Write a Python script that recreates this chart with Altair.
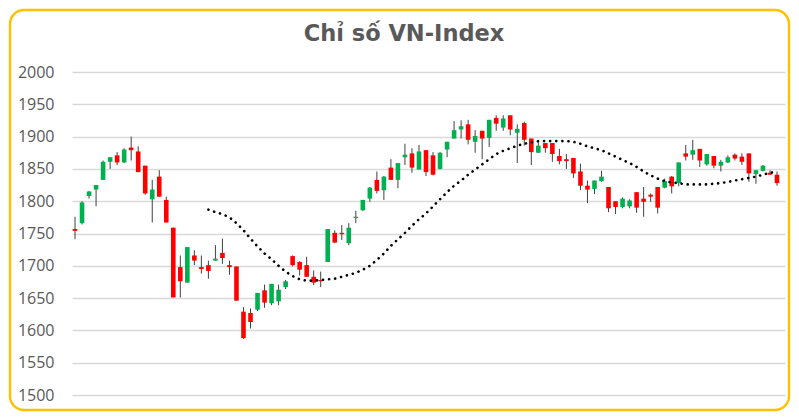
import altair as alt
import pandas as pd

# ---- data ----
open_ = [1757,1766,1808,1818,1833,1861,1871,1860,1883,1877,
         1855,1803,1838,1802,1759,1698,1674,1716,1698,1701,
         1708,1720,1701,1699,1629,1627,1632,1662,1642,1645,
         1667,1715,1706,1701,1683,1678,1706,1751,1751,1735,
         1774,1786,1804,1833,1817,1852,1833,1868,1874,1849,
         1879,1871,1850,1880,1897,1911,1919,1892,1909,1898,
         1929,1914,1933,1906,1921,1897,1875,1890,1890,1870,
         1865,1867,1846,1824,1819,1831,1822,1800,1791,1792,
         1814,1804,1810,1822,1821,1838,1828,1874,1872,1881,
         1857,1870,1855,1860,1872,1869,1874,1842,1847,1844,
         1841]
high = [1776,1800,1816,1825,1863,1868,1876,1882,1900,1885,
        1855,1833,1848,1807,1759,1716,1729,1724,1716,1708,
        1732,1742,1708,1699,1636,1634,1658,1671,1672,1671,
        1678,1716,1707,1714,1693,1691,1757,1755,1763,1766,
        1785,1802,1822,1846,1839,1865,1859,1889,1882,1887,
        1879,1876,1876,1892,1924,1925,1926,1910,1909,1926,
        1933,1933,1933,1919,1923,1897,1893,1890,1890,1881,
        1873,1867,1858,1832,1832,1847,1822,1800,1806,1803,
        1814,1822,1812,1822,1835,1839,1860,1887,1895,1881,
        1873,1870,1864,1871,1874,1874,1874,1848,1856,1848,
        1846]
low = [1741,1764,1804,1792,1833,1850,1856,1859,1863,1845,
       1810,1767,1807,1767,1651,1651,1674,1701,1688,1680,
       1708,1703,1686,1646,1587,1603,1630,1635,1639,1639,
       1664,1699,1685,1683,1670,1667,1706,1735,1740,1732,
       1766,1785,1799,1812,1802,1833,1820,1856,1844,1849,
       1839,1840,1849,1868,1897,1897,1888,1875,1865,1884,
       1909,1909,1902,1859,1886,1856,1875,1875,1861,1857,
       1850,1836,1817,1797,1811,1830,1783,1780,1789,1789,
       1782,1776,1799,1781,1820,1812,1823,1863,1864,1853,
       1855,1851,1846,1859,1863,1856,1830,1827,1846,1841,
       1824]
close = [1754,1798,1815,1825,1861,1868,1860,1880,1879,1845,
         1812,1818,1807,1767,1651,1676,1729,1708,1695,1692,
         1711,1712,1698,1646,1588,1613,1658,1643,1672,1663,
         1676,1701,1694,1683,1674,1676,1757,1736,1749,1759,
         1776,1802,1821,1816,1838,1833,1859,1872,1852,1877,
         1845,1841,1875,1892,1910,1916,1895,1901,1897,1926,
         1920,1928,1911,1912,1895,1876,1886,1882,1873,1862,
         1862,1843,1824,1818,1832,1838,1789,1791,1804,1801,
         1790,1799,1807,1790,1831,1823,1860,1869,1879,1863,
         1873,1855,1861,1868,1866,1861,1843,1848,1855,1841,
         1828]
# dotted moving-average line, read at each session from candle 20 on
ma_start = 20
ma = [1787,1783,1780,1775,1766,1755,1742,1730,1719,1710,
      1700,1691,1684,1679,1677,1677,1678,1679,1680,1683,
      1686,1689,1694,1700,1709,1719,1731,1741,1751,1762,
      1772,1781,1792,1803,1814,1824,1832,1841,1849,1857,
      1865,1873,1878,1882,1886,1889,1891,1893,1893,1893,
      1893,1893,1892,1889,1885,1882,1879,1874,1869,1864,
      1859,1853,1846,1840,1835,1831,1829,1828,1826,1826,
      1826,1826,1827,1828,1830,1832,1834,1836,1838,1841,
      1844,1846]
y_ticks = [1500,1550,1600,1650,1700,1750,1800,1850,1900,1950,2000]
title_text = "Chỉ số VN-Index"

n = len(close)
candles = pd.DataFrame({
    "i": list(range(1, n + 1)),
    "o": open_, "h": high, "l": low, "c": close,
})
candles["dir"] = ["up" if c >= o else "down" for o, c in zip(open_, close)]
ma_df = pd.DataFrame({"i": list(range(ma_start, ma_start + len(ma))), "ma": ma})
frame_df = pd.DataFrame({"k": [0]})
title_df = pd.DataFrame({"t": [title_text]})

xs = alt.Scale(domain=[0.57, 102.14], nice=False, zero=False, padding=0)
ys = alt.Scale(domain=[1500, 2000], nice=False, zero=False, padding=0)

yaxis = alt.Axis(values=y_ticks, format="d", title=None, domain=False, ticks=False, tickSize=0,
                 labelPadding=18, labelFont="Open Sans", labelFontSize=16,
                 labelColor="#595959", gridColor="#D9D9D9", gridWidth=1.3)

base = alt.Chart(candles)

wicks = base.mark_rule(color="#404040", strokeWidth=1).encode(
    x=alt.X("i:Q", scale=xs, axis=None),
    y=alt.Y("l:Q", scale=ys, axis=yaxis),
    y2="h:Q",
)

bodies = base.mark_bar(size=4.6).encode(
    x=alt.X("i:Q", scale=xs, axis=None),
    y=alt.Y("o:Q", scale=ys, axis=yaxis),
    y2="c:Q",
    color=alt.Color("dir:N", scale=alt.Scale(domain=["up", "down"], range=["#00B050", "#FF0000"]), legend=None),
)

ma_line = alt.Chart(ma_df).mark_line(
    color="#000000", strokeWidth=2.6, strokeDash=[0.1, 6], strokeCap="round"
).encode(
    x=alt.X("i:Q", scale=xs, axis=None),
    y=alt.Y("ma:Q", scale=ys, axis=yaxis),
)

frame = alt.Chart(frame_df).mark_rect(
    filled=False, stroke="#FFC000", strokeWidth=2.4, cornerRadius=14
).encode(
    x=alt.value(-62), x2=alt.value(717), y=alt.value(-62), y2=alt.value(338),
)

title = alt.Chart(title_df).mark_text(
    font="DejaVu Sans", fontSize=22.5, fontWeight="bold", color="#595959",
    align="center", baseline="alphabetic"
).encode(
    text="t:N", x=alt.value(332), y=alt.value(-31),
)

chart = alt.layer(wicks, bodies, ma_line, frame, title).properties(
    width=713, height=323,
    autosize=alt.AutoSizeParams(type="none"),
    padding={"left": 64, "top": 64, "right": 6, "bottom": 17},
    background="#FFFFFF",
).configure_view(stroke=None)

chart.save("out.html", embed_options={"renderer": "svg", "actions": False})
